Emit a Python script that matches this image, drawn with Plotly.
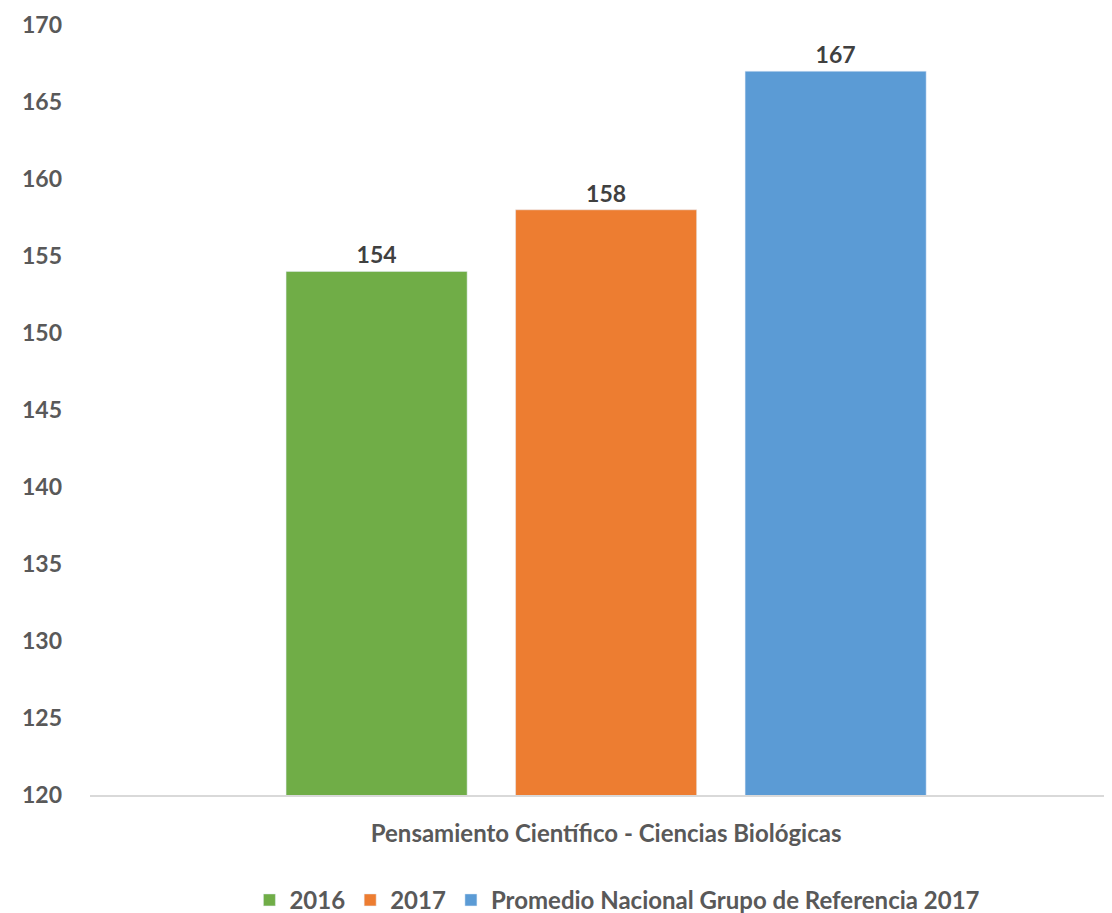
import plotly.graph_objects as go

category = ["Pensamiento Científico - Ciencias Biológicas"]
series_names = ["2016", "2017", "Promedio Nacional Grupo de Referencia 2017"]
series_values = [[154], [158], [167]]
colors = ["#70AD47", "#ED7D31", "#5B9BD5"]
y_ticks = [120, 125, 130, 135, 140, 145, 150, 155, 160, 165, 170]

FONT = "Lato"

fig = go.Figure()
for name, vals, col in zip(series_names, series_values, colors):
    fig.add_trace(go.Bar(
        x=category, y=vals, name=name, marker_color=col,
        text=[str(v) for v in vals], textposition="outside",
        textfont=dict(family=FONT, size=23, color="#404040", weight="bold"),
        cliponaxis=False,
    ))

fig.update_layout(
    width=1104, height=905,
    margin=dict(l=82, r=0, t=17, b=118),
    plot_bgcolor="white", paper_bgcolor="white",
    barmode="group", bargap=0.3263, bargroupgap=0.211,
    font=dict(family=FONT, size=23, color="#595959", weight="bold"),
    showlegend=True,
    legend=dict(orientation="h", xref="container", yref="container",
                x=0.552, xanchor="center", y=0.014, yanchor="middle",
                font=dict(family=FONT, size=24, color="#595959", weight="bold"),
                itemwidth=30, traceorder="normal"),
)
fig.update_xaxes(range=[-0.505, 0.495], showline=True, linecolor="#D9D9D9", linewidth=1.5,
                 ticks="", showgrid=False, ticklabelstandoff=16,
                 tickfont=dict(family=FONT, size=24, color="#595959", weight="bold"))
fig.update_yaxes(range=[120, 170], tickvals=y_ticks, showgrid=False, zeroline=False,
                 showline=False, ticks="", ticklabelstandoff=27,
                 tickfont=dict(family=FONT, size=23, color="#595959", weight="bold"))

fig.write_html("out.html")
